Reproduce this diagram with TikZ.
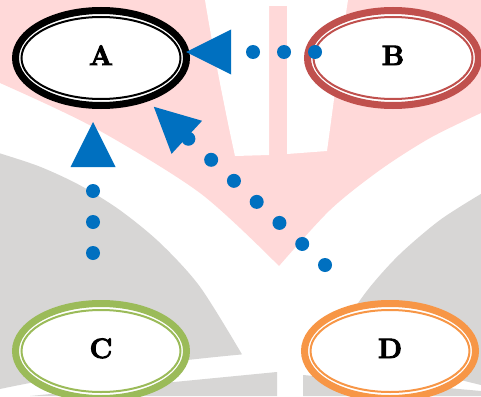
\documentclass[tikz,border=0pt]{standalone}
\usepackage{fontspec}
\newfontfamily\heavyfont{Latin Modern Roman}[FakeBold=3.5]
\usetikzlibrary{shapes.geometric,arrows.meta}
\definecolor{pinkbg}{RGB}{255,217,217}
\definecolor{graybg}{RGB}{215,214,213}
\definecolor{conblue}{RGB}{0,112,192}
\definecolor{nred}{RGB}{192,80,77}
\definecolor{ngreen}{RGB}{155,187,89}
\definecolor{norange}{RGB}{247,150,70}
\tikzset{
  lbl/.style={ellipse, minimum width=171pt, minimum height=95pt, inner sep=0pt,
    line width=7pt, fill=white, text=black,
    font=\heavyfont\fontsize{28}{28}\selectfont\bfseries, text depth=5pt, text height=19pt},
  ring/.style={lbl, draw=#1, path picture={\draw[#1, line width=2pt]
    (path picture bounding box.center) ellipse [x radius=79.5pt, y radius=41pt];}},
  con/.style={conblue, line width=14pt, line cap=round, dash pattern=on 0pt off 31pt,
    -{Triangle[length=45pt,width=45pt,line width=0pt]}},
}
\begin{document}
\begin{tikzpicture}[x=1pt,y=-1pt]
\useasboundingbox (0,0) rectangle (481,396);
\fill[white] (0,0) rectangle (481,396);
% pink upper region
\fill[pinkbg] (0,0) -- (481,0) -- (481,113)
  -- plot[smooth] coordinates {(481,113) (430,138) (380,170) (330,210) (279,266)}
  -- plot[smooth] coordinates {(279,266) (200,193) (93,127) (0,83)} -- cycle;
% white cut-out at top
\fill[white] (205,0) .. controls (214,55) and (226,115) .. (235,156) -- (269,155)
  -- (269,6) -- (287,6) -- (287,154) -- (327,151)
  .. controls (334,100) and (341,45) .. (348,0) -- cycle;
% gray left
\fill[graybg] plot[smooth] coordinates {(0,153.4) (40,166.7) (80,185.3) (120,210.2)
  (160,242.9) (200,286.8) (242,354.4)}
  .. controls (160,362) and (70,374) .. (0,389) -- cycle;
% gray right
\fill[graybg] plot[smooth] coordinates {(481,193.9) (440,220) (400,254) (370,287)
  (345,322.1) (330,348.3)} -- (481,385) -- cycle;
% lower gray pieces
\fill[graybg] (277,372) -- (277,396) -- (30,396) -- cycle;
\fill[graybg] (303,375) -- (481,391) -- (481,396) -- (303,396) -- cycle;
% nodes
\node[ring=black] (A) at (101,58) {A};
\node[ring=nred] (B) at (393,58) {B};
\node[ring=ngreen] (C) at (101,351) {C};
\node[ring=norange] (D) at (390,351) {D};
% connectors
\coordinate (sB) at (315,52);
\coordinate (sC) at (93,253);
\coordinate (sD) at (325,265);
\draw[con, shorten >=-4pt] (sB) -- (sB -| A.east);
\draw[con, shorten >=13pt] (sC) -- (sC |- A.south);
\draw[con, shorten >=8pt] (sD) -- (A);
\end{tikzpicture}
\end{document}
